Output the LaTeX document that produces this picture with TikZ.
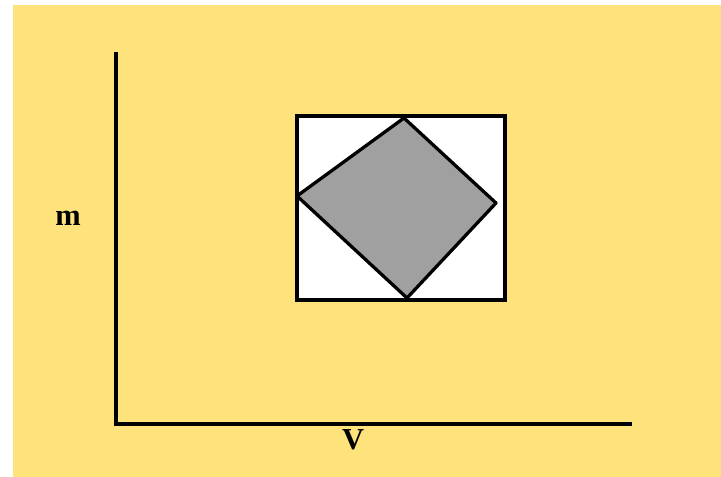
\documentclass[tikz,border=0pt]{standalone}
\usepackage{fontspec}
\setmainfont{Liberation Serif}
\usepackage{tikz}
\definecolor{bgyellow}{RGB}{254,226,124}
\definecolor{diamondgray}{RGB}{160,160,160}

\begin{document}
\begin{tikzpicture}[x=0.03cm, y=-0.03cm, every node/.style={font=\fontsize{26}{30}\selectfont\bfseries}]
    \useasboundingbox (0,0) rectangle (721,477);
    % background
    \fill[bgyellow] (13,5) rectangle (721,477);

    % axes
    \coordinate (top) at (116,52);
    \coordinate (origin) at (116,424);
    \coordinate (right) at (632,424);
    \draw[line width=3.2pt] (top) -- (origin) -- (right);

    % labels
    \node (m) at (68,218) {m};
    \node (V) at (353,440) {V};

    % outer square
    \coordinate (sqa) at (297,116);
    \coordinate (sqb) at (505,300);
    \draw[line width=2.8pt, fill=white] (sqa) rectangle (sqb);

    % inner diamond
    \coordinate (dt) at (404,118);
    \coordinate (dr) at (496,203);
    \coordinate (db) at (407,298);
    \coordinate (dl) at (297,196);
    \draw[line width=2.8pt, fill=diamondgray, line join=round] (dt) -- (dr) -- (db) -- (dl) -- cycle;
\end{tikzpicture}
\end{document}
